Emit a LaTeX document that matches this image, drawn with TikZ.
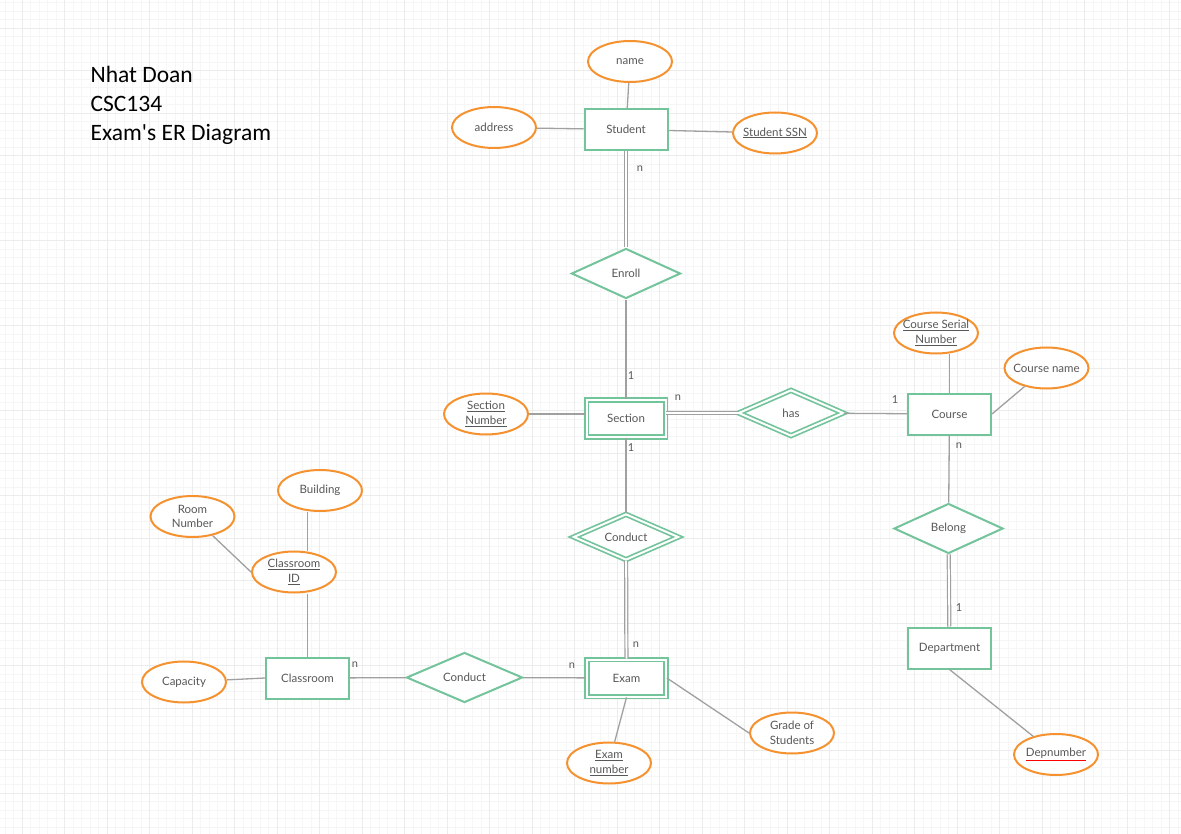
\documentclass[tikz,border=0pt]{standalone}
\usepackage{fontspec}
\setmainfont{Lato}
\newfontfamily\titlefont{Carlito}
\usetikzlibrary{shapes,positioning}

\definecolor{entgreen}{RGB}{115,195,155}
\definecolor{attrorange}{RGB}{245,146,47}
\definecolor{linegray}{RGB}{160,160,160}
\definecolor{txtgray}{RGB}{88,88,88}
\definecolor{gridminor}{RGB}{246,246,246}
\definecolor{gridmajor}{RGB}{236,236,236}

\begin{document}
\begin{tikzpicture}
[x=1pt, y=-1pt, line width=1.3pt,
  entity/.style={rectangle, minimum width=83pt, minimum height=41pt, inner sep=0pt, draw=entgreen, line width=2pt, fill=white, text=txtgray, font=\fontsize{11.5}{14}\selectfont},
  weakentity/.style={entity, minimum width=79pt, minimum height=37pt, double=white, double distance=2pt, line width=1.7pt},
  relation/.style={diamond, aspect=2.2, minimum width=109pt, minimum height=50pt, inner sep=0pt, draw=entgreen, line width=2pt, fill=white, text=txtgray, font=\fontsize{11.5}{14}\selectfont},
  weakrelation/.style={relation, minimum width=105pt, minimum height=46pt, double=white, double distance=2pt, line width=1.7pt},
  attribute/.style={ellipse, minimum width=84pt, minimum height=41pt, inner xsep=-4pt, inner ysep=0pt, draw=attrorange, line width=2pt, fill=white, text=txtgray, align=center, font=\fontsize{11.5}{14.5}\selectfont},
  plain/.style={draw=linegray, line width=1.3pt},
  dbl/.style={draw=linegray, double=white, double distance=1.8pt, line width=1.2pt},
  card/.style={text=txtgray, inner sep=0pt, font=\fontsize{11}{13}\selectfont},
  title/.style={anchor=base west, inner sep=0pt, text=black, font=\titlefont\fontsize{23.5}{29}\selectfont}
]
  \useasboundingbox (0,0) rectangle (1181,834);
  \fill[white] (0,0) rectangle (1181,834);

  \foreach \i in {0,...,138}
    \draw[gridminor, line width=0.8pt] ({5.3+8.5*\i},0) -- ({5.3+8.5*\i},834);
  \foreach \j in {0,...,98}
    \draw[gridminor, line width=0.8pt] (0,{2.5+8.5*\j}) -- (1181,{2.5+8.5*\j});
  \foreach \i in {2,7,...,137}
    \draw[gridmajor, line width=0.8pt] ({5.3+8.5*\i},0) -- ({5.3+8.5*\i},834);
  \foreach \j in {3,8,...,98}
    \draw[gridmajor, line width=0.8pt] (0,{2.5+8.5*\j}) -- (1181,{2.5+8.5*\j});

  \node[title] (author) at (90,83) {Nhat Doan};
  \node[title] (course id) at (90,112) {CSC134};
  \node[title] (heading) at (90,141) {Exam's ER Diagram};

  \node[entity] (student) at (626,129.5) {Student};
  \node[weakentity] (section) at (626,418.5) {Section};
  \node[entity] (course) at (949.5,414) {Course};
  \node[entity] (department) at (949.5,648) {Department};
  \node[entity] (classroom) at (307.5,678) {Classroom};
  \node[weakentity] (exam) at (626.5,678) {Exam};

  \node[relation] (enroll) at (626,273.5) {Enroll};
  \node[weakrelation] (has) at (791,413) {has};
  \node[weakrelation] (conductA) at (626,537) {Conduct};
  \node[relation] (belong) at (948.5,528.5) {Belong};
  \node[relation, minimum width=116pt] (conductB) at (464.5,677.5) {Conduct};

  \node[attribute] (name) at (630,61.5) {name};
  \node[attribute] (address) at (494,127.5) {address};
  \node[attribute] (ssn) at (775,133) {\underline{Student SSN}};
  \node[attribute] (secno) at (486,414) {\underline{Section}\\\underline{Number}};
  \node[attribute] (csn) at (936,333) {\underline{Course Serial}\\\underline{Number}};
  \node[attribute] (cname) at (1046.5,368) {Course name};
  \node[attribute] (building) at (320,490.5) {Building};
  \node[attribute] (roomno) at (192.5,516.5) {Room\\Number};
  \node[attribute] (cid) at (294,572) {\underline{Classroom}\\\underline{ID}};
  \node[attribute] (capacity) at (184,682) {Capacity};
  \node[attribute] (examno) at (609,763) {\underline{Exam}\\\underline{number}};
  \node[attribute] (grade) at (792,733) {Grade of\\Students};
  \node[attribute] (depno) at (1056,754.5) {{\color{red}\underline{\textcolor{txtgray}{Depnumber}}}};

  \draw[plain] (name) -- (student);
  \draw[plain] (address) -- (student);
  \draw[plain] (student) -- (ssn);
  \draw[dbl] (student) -- (enroll);
  \draw[plain] (enroll) -- (section);
  \draw[plain] (secno.east) -- (secno.east -| section.west);
  \draw[dbl] (has.west -| section.east) -- (has);
  \draw[plain] (has) -- (course);
  \draw[plain] (course.north) -- (course.north |- csn.south);
  \draw[plain] (course.east) -- (cname);
  \draw[plain] (course) -- (belong);
  \draw[dbl] (belong) -- (department);
  \draw[plain] (department.south) -- (depno);
  \draw[plain] (section) -- (conductA);
  \draw[dbl] (conductA) -- (exam);
  \draw[plain] (classroom) -- (conductB);
  \draw[plain] (conductB) -- (exam);
  \draw[plain] (exam.south) -- (examno);
  \draw[plain] (exam.east) -- (grade.west);
  \draw[plain] (classroom.west) -- (capacity);
  \draw[plain] (classroom.north) -- (classroom.north |- cid.south);
  \draw[plain] (building.south -| classroom.north) -- (cid.north -| classroom.north);
  \draw[plain] (cid.west) -- (roomno);

  \node[card] (student n) at (640,169) {n};
  \node[card] (section 1) at (631,376) {1};
  \node[card] (section n) at (678,398) {n};
  \node[card] (course 1) at (895,400) {1};
  \node[card] (course n) at (959,446) {n};
  \node[card] (department 1) at (959,608) {1};
  \node[card] (conduct 1) at (631,448) {1};
  \node[card] (exam n) at (636,645) {n};
  \node[card] (classroom n) at (355,665) {n};
  \node[card] (exam m) at (572,666) {n};
\end{tikzpicture}
\end{document}
